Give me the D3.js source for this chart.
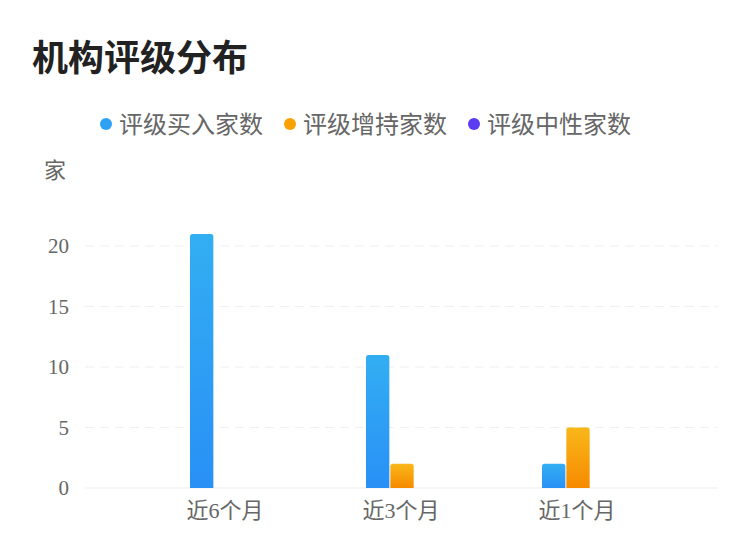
<!DOCTYPE html>
<html>
<head>
<meta charset="utf-8">
<script src="https://cdn.jsdelivr.net/npm/d3@7"></script>
<style>
body{margin:0;background:#fff;}
</style>
</head>
<body>
<svg width="750" height="558"></svg>
<script>
var categories = ["近6个月", "近3个月", "近1个月"];
var seriesNames = ["评级买入家数", "评级增持家数", "评级中性家数"];
var buyCounts = [21, 11, 2];
var holdCounts = [0, 2, 5];
var neutralCounts = [0, 0, 0];
var yTicks = [0, 5, 10, 15, 20];

var svg = d3.select("svg");
var cjk = "'Noto Sans CJK SC', sans-serif";
var serif = "'Liberation Serif', 'Noto Sans CJK SC', serif";

var defs = svg.append("defs");
var grads = [["#33aef2", "#2990f6"], ["#f9b71a", "#f68a00"], ["#6b4cf5", "#4a2ee8"]];
grads.forEach(function(c, i){
    var g = defs.append("linearGradient").attr("id", "g" + i)
        .attr("x1", 0).attr("y1", 0).attr("x2", 0).attr("y2", 1);
    g.append("stop").attr("offset", "0%").attr("stop-color", c[0]);
    g.append("stop").attr("offset", "100%").attr("stop-color", c[1]);
});
var dotColors = ["#2fa1f4", "#f8a100", "#5b3cf0"];

svg.append("text").attr("x", 32).attr("y", 71)
    .attr("font-family", cjk).attr("font-weight", "bold")
    .attr("font-size", 36).attr("fill", "#222")
    .text("机构评级分布");

// legend
var legendX = [106, 290, 474];
seriesNames.forEach(function(name, i){
    svg.append("circle").attr("cx", legendX[i]).attr("cy", 124).attr("r", 6)
        .attr("fill", dotColors[i]);
    svg.append("text").attr("x", legendX[i] + 13).attr("y", 133)
        .attr("font-family", cjk).attr("font-size", 24).attr("fill", "#666")
        .text(name);
});

svg.append("text").attr("x", 44).attr("y", 178)
    .attr("font-family", cjk).attr("font-size", 22).attr("fill", "#666")
    .text("家");

var y = d3.scaleLinear().domain([0, 20]).range([488, 246]);
var x = d3.scaleBand().domain(categories).range([137, 665]);
var xs = d3.scaleBand().domain(d3.range(3)).range([-35, 37]).paddingInner(0.04);

// grid
yTicks.forEach(function(t){
    svg.append("line").attr("x1", 85).attr("x2", 718)
        .attr("y1", y(t)).attr("y2", y(t))
        .attr("stroke", t == 0 ? "#eeeeee" : "#f0f0f0").attr("stroke-width", 1.2)
        .attr("stroke-dasharray", t == 0 ? null : "9,6");
    svg.append("text").attr("x", 69).attr("y", y(t) + 7)
        .attr("text-anchor", "end").attr("font-family", serif)
        .attr("font-size", 21).attr("fill", "#666").text(t);
});

var series = [buyCounts, holdCounts, neutralCounts];
function barPath(x0, w, top, bottom){
    var r = Math.min(2.5, (bottom - top));
    return "M" + x0 + "," + bottom + "V" + (top + r) +
        "Q" + x0 + "," + top + " " + (x0 + r) + "," + top +
        "H" + (x0 + w - r) + "Q" + (x0 + w) + "," + top + " " + (x0 + w) + "," + (top + r) +
        "V" + bottom + "Z";
}
series.forEach(function(vals, si){
    categories.forEach(function(c, ci){
        if (vals[ci] <= 0) return;
        var cx = x(c) + x.bandwidth() / 2;
        svg.append("path")
            .attr("d", barPath(cx + xs(si), xs.bandwidth(), y(vals[ci]), y(0)))
            .attr("fill", "url(#g" + si + ")");
    });
});

// x labels
categories.forEach(function(c){
    svg.append("text").attr("x", x(c) + x.bandwidth() / 2).attr("y", 518)
        .attr("text-anchor", "middle").attr("font-family", serif)
        .attr("font-size", 22).attr("fill", "#666").text(c);
});
</script>
</body>
</html>
